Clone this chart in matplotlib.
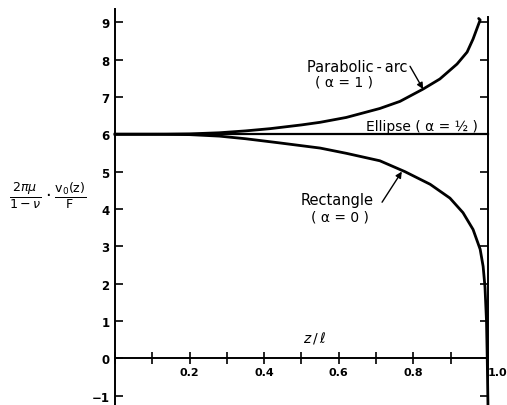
import matplotlib
matplotlib.use("Agg")
import matplotlib.pyplot as plt
from matplotlib.ticker import MultipleLocator

plt.rcParams["font.family"] = ["DejaVu Sans"]
plt.rcParams["mathtext.fontset"] = "dejavusans"

# 曲線データ
z_ellipse = [0.0, 1.0]
v_ellipse = [6.0, 6.0]

z_para = [0.0, 0.1, 0.2, 0.28, 0.35, 0.416, 0.5, 0.55, 0.62, 0.71, 0.764,
          0.826, 0.871, 0.917, 0.944, 0.96, 0.973, 0.979, 0.975]
v_para = [6.0, 6.0, 6.01, 6.04, 6.09, 6.15, 6.25, 6.32, 6.45, 6.69, 6.88,
          7.21, 7.48, 7.88, 8.2, 8.55, 8.9, 9.06, 9.1]

z_rect = [0.0, 0.1, 0.2, 0.28, 0.35, 0.44, 0.55, 0.62, 0.71, 0.777, 0.845,
          0.898, 0.933, 0.96, 0.979, 0.987, 0.992, 0.996, 0.998, 1.0]
v_rect = [6.0, 6.0, 5.99, 5.95, 5.88, 5.77, 5.63, 5.49, 5.29, 5.0, 4.66,
          4.29, 3.9, 3.45, 2.92, 2.46, 1.9, 1.0, 0.0, -1.3]

y_ticks = [-1, 0, 1, 2, 3, 4, 5, 6, 7, 8, 9]
x_ticks = [0.2, 0.4, 0.6, 0.8, 1.0]
x_tick_labels = ["0.2", "0.4", "0.6", "0.8", "1.0"]

fig = plt.figure(figsize=(5.07, 4.06), dpi=100)
ax = fig.add_axes([0.2268, 0.0, 0.7357, 0.975])

ax.plot(z_ellipse, v_ellipse, color="black", lw=1.6, clip_on=False)
ax.plot(z_para, v_para, color="black", lw=2.0, clip_on=False,
        solid_capstyle="round", solid_joinstyle="round")
ax.plot(z_rect, v_rect, color="black", lw=2.0, clip_on=False,
        solid_joinstyle="round")

ax.set_xlim(0, 1.0)
ax.set_ylim(-1.25, 9.35)

# 軸の体裁
ax.spines["top"].set_visible(False)
ax.spines["bottom"].set_position(("data", 0))
ax.spines["right"].set_bounds(-1.25, 9.15)
for s in ax.spines.values():
    s.set_linewidth(1.4)

ax.set_yticks(y_ticks)
ax.yaxis.set_ticks_position("both")
ax.tick_params(axis="y", direction="in", length=6, width=1.2, pad=4,
               labelsize=8.5, labelright=False)
ax.set_xticks(x_ticks)
ax.set_xticklabels(x_tick_labels)
ax.xaxis.set_minor_locator(MultipleLocator(0.1))
ax.tick_params(axis="x", which="both", direction="inout", length=8, width=1.2,
               pad=2, labelsize=8)
for lab in ax.get_yticklabels() + ax.get_xticklabels():
    lab.set_fontweight("bold")
ax.get_xticklabels()[-1].set_horizontalalignment("left")

# 注記
ax.text(0.649, 7.82, "Parabolic\u2009-\u2009arc", fontsize=10.5,
        ha="center", va="center")
ax.text(0.615, 7.42, "( α = 1 )", fontsize=10, ha="center", va="center")
ax.annotate("", xy=(0.826, 7.21), xytext=(0.791, 7.82),
            arrowprops=dict(arrowstyle="-|>", color="black", lw=1.0,
                            mutation_scale=9, shrinkA=0, shrinkB=0))
ax.text(0.672, 6.22, "Ellipse ( α = ½ )", fontsize=10,
        ha="left", va="center")
ax.text(0.595, 4.26, "Rectangle", fontsize=10.5, ha="center", va="center")
ax.text(0.602, 3.80, "( α = 0 )", fontsize=10, ha="center", va="center")
ax.annotate("", xy=(0.769, 5.0), xytext=(0.716, 4.18),
            arrowprops=dict(arrowstyle="-|>", color="black", lw=1.0,
                            mutation_scale=9, shrinkA=0, shrinkB=0))
ax.text(0.535, 0.35, r"$z\,/\,\ell$", fontsize=10, ha="center", va="bottom")

fig.text(0.095, 0.515,
         r"$\frac{2\pi\mu}{\mathrm{1-}\nu}\cdot\frac{\mathrm{v_0(z)}}{\mathrm{F}}$",
         fontsize=13, ha="center", va="center")

fig.savefig("out.png", dpi=100, facecolor="white")
